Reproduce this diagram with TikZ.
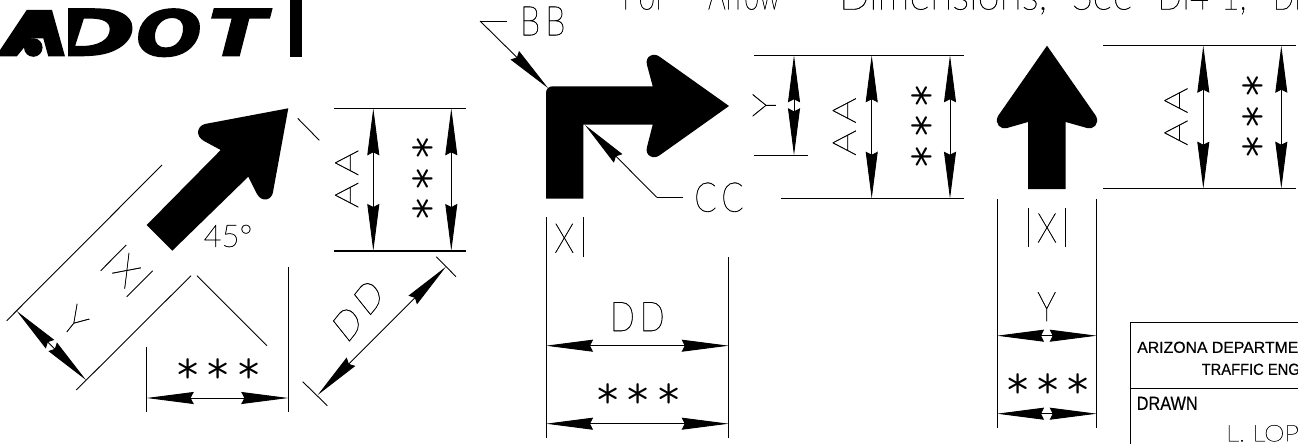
\documentclass[tikz,border=0pt]{standalone}
\usepackage{fontspec}
\usetikzlibrary{arrows.meta}
\setmainfont{Liberation Sans}
\newfontfamily\cadthin[FakeBold=1.0]{Lato Thin}
\newfontfamily\cadwide[LetterSpace=15,FakeBold=1.0]{Lato Thin}
\newfontfamily\cadplain[FakeBold=0.4]{Liberation Sans}
\newfontfamily\logofont[BoldItalicFeatures={FakeBold=2}]{DejaVu Sans}
\newfontfamily\starfont{Latin Modern Mono Light}
\newcommand{\fitw}[3]{\makebox[#1pt][l]{\resizebox{#2pt}{\height}{#3}}}
\newcommand{\logoletter}[3]{\makebox[#1pt][l]{\resizebox{#2pt}{47pt}{#3}}}
\tikzset{
  lineext/.style={line width=.9pt,black},
  lineheavy/.style={line width=1.1pt,black},
  dimline/.style={line width=.9pt,black,{Stealth[length=47pt,width=12pt,inset=3pt]}-{Stealth[length=47pt,width=12pt,inset=3pt]}},
  leader/.style={line width=.9pt,black,-{Stealth[length=47pt,width=12pt,inset=3pt]}},
  solidarrow/.style={fill=black,draw=none},
  lbl/.style={inner sep=0pt,outer sep=0pt,font=\cadthin\fontsize{41}{41}\selectfont,xscale=.8},
  lblwide/.style={inner sep=0pt,outer sep=0pt,font=\cadwide\fontsize{41}{41}\selectfont,xscale=.8},
  starmark/.style={inner sep=0pt,outer sep=0pt,font=\starfont\fontsize{48}{48}\selectfont,yshift=-2.3pt},
  starcol/.style={inner sep=0pt,outer sep=0pt,font=\starfont\fontsize{48}{48}\selectfont,rotate=90,xshift=0pt,yshift=-2.8pt},
  box/.style={line width=1.2pt,black},
  boxtxt/.style={inner sep=0pt,outer sep=0pt,anchor=west,font=\cadplain\fontsize{16}{16}\selectfont}
}
\begin{document}
\begin{tikzpicture}[x=1pt,y=-1pt]
\useasboundingbox (0,0) rectangle (1298,444);
\clip (0,0) rectangle (1298,444);
% ---------- logo
\node[inner sep=0pt,outer sep=0pt,anchor=south west] (logo) at (0,56.7)
  {\logofont\bfseries\itshape\logoletter{49}{47}{A}\logoletter{87}{87}{D}\logoletter{72}{66}{O}\logoletter{58}{58}{T}};
\fill[white] (-1,5) rectangle (67.5,58);
\fill (26.7,10) -- (52,10) -- (65,56.5) -- (48.3,56.5) -- (43.3,38.3) -- (31.7,38.3) -- (16.7,56.5) -- (0,56.5) -- (0,50) -- cycle;
\fill (33.3,47.5) circle (9.3);
\fill (290,0) rectangle (302,57);
% ---------- top note
\node[inner sep=0pt,outer sep=0pt,anchor=base west,font=\cadthin\fontsize{41}{41}\selectfont] (note) at (622,9.5)
  {\fitw{86}{44}{For}\fitw{131}{72}{Arrow}\fitw{233}{208}{Dimensions,}\fitw{85.5}{61}{See}\fitw{115.5}{89}{DI4-1,}\fitw{40}{28}{DI}};
% ---------- diagonal arrow
\fill[solidarrow] (288.3,108.3) -- (205,124) .. controls (197,126) and (195,136) .. (204,141) -- (220.7,150) -- (146.7,225) -- (172.3,250.7) -- (248.3,176.7) -- (257,194) .. controls (262,203) and (272,200) .. (273,192) -- cycle;
\coordinate (e1a) at (162,165); \coordinate (e1b) at (6.7,320.7);
\coordinate (e2a) at (191,275.7); \coordinate (e2b) at (76.3,390);
\coordinate (e3a) at (297.7,118.3); \coordinate (e3b) at (319.3,140.3);
\coordinate (e4a) at (197,275.7); \coordinate (e4b) at (267,345.7);
\coordinate (e5a) at (288.3,266.7); \coordinate (e5b) at (288.3,412.3);
\coordinate (e6a) at (146.7,346.7); \coordinate (e6b) at (146.7,412.3);
\draw[lineext] (e1a) -- (e1b);
\draw[lineext] (e2a) -- (e2b);
\draw[lineext] (e3a) -- (e3b);
\draw[lineext] (e4a) -- (e4b);
\draw[lineext] (e5a) -- (e5b);
\draw[lineext] (e6a) -- (e6b);
\coordinate (d1a) at (146.7,398); \coordinate (d1b) at (288.3,398);
\draw[dimline] (d1a) -- (d1b);
\node[starmark] (s1a) at (187.7,368.7) {*};
\node[starmark] (s1b) at (218.3,368.7) {*};
\node[starmark] (s1c) at (249,368.7) {*};
\node[inner sep=0pt,font=\cadthin\fontsize{31}{31}\selectfont] (deg) at (228,236) {45°};
\coordinate (x1a) at (126.3,245); \coordinate (x1b) at (100.7,270.7);
\coordinate (x1c) at (152.7,270.7); \coordinate (x1d) at (126.7,296.7);
\draw[lineext] (x1a) -- (x1b);
\draw[lineext] (x1c) -- (x1d);
\node[lbl,rotate=-45] (x1) at (126.7,270.7) {X};
\coordinate (y1a) at (16.7,311); \coordinate (y1b) at (86,380);
\draw[dimline] (y1a) -- (y1b);
\node[lbl,rotate=-45] (y1) at (75,321.7) {Y};
\coordinate (dd1a) at (446,266.7); \coordinate (dd1b) at (317.7,395);
\draw[dimline] (dd1a) -- (dd1b);
\coordinate (e7a) at (436.3,256.7); \coordinate (e7b) at (456,276.7);
\coordinate (e8a) at (302.7,381.7); \coordinate (e8b) at (327.3,405.7);
\draw[lineext] (e7a) -- (e7b);
\draw[lineext] (e8a) -- (e8b);
\node[lblwide,rotate=45] (dd1) at (358,310.3) {DD};
\coordinate (h1a) at (334.3,108.3); \coordinate (h1b) at (465.7,108.3);
\coordinate (h2a) at (334.3,251); \coordinate (h2b) at (465.7,251);
\draw[lineheavy] (h1a) -- (h1b);
\draw[lineheavy] (h2a) -- (h2b);
\coordinate (a1a) at (373.3,108.3); \coordinate (a1b) at (373.3,251);
\coordinate (a2a) at (451.3,108.3); \coordinate (a2b) at (451.3,251);
\draw[dimline] (a1a) -- (a1b);
\draw[dimline] (a2a) -- (a2b);
\node[lblwide,rotate=90] (aa1) at (346.7,179) {AA};
\node[starcol] (s2a) at (422.7,148) {*};
\node[starcol] (s2b) at (422.7,178.7) {*};
\node[starcol] (s2c) at (422.7,209) {*};
% ---------- bent arrow
\fill[solidarrow] (546,198.7) -- (546,93) .. controls (546,88.5) and (549,86.3) .. (553,86.3) -- (652.7,86.3) -- (647,65) .. controls (644.5,56) and (654,52) .. (660,57) -- (729,106) -- (660,155) .. controls (654,160) and (644.5,156) .. (647,147) -- (652.7,124.7) -- (583.3,124.7) -- (583.3,198.7) -- cycle;
\node[lblwide] (bb) at (542.7,21) {BB};
\coordinate (bb0) at (506.7,21); \coordinate (bb1) at (480,21); \coordinate (bb2) at (548.3,88.3);
\draw[lineext] (bb0) -- (bb1);
\draw[leader] (bb1) -- (bb2);
\node[lblwide] (cc) at (719,197.3) {CC};
\coordinate (cc0) at (683.3,197.3); \coordinate (cc1) at (656.7,197.3); \coordinate (cc2) at (585,125);
\draw[lineext] (cc0) -- (cc1);
\draw[leader] (cc1) -- (cc2);
\coordinate (v1a) at (546,217.3); \coordinate (v1b) at (546,437.7);
\coordinate (v2a) at (583.3,217.3); \coordinate (v2b) at (583.3,256.7);
\coordinate (v3a) at (728.7,257); \coordinate (v3b) at (728.7,437.7);
\draw[lineext] (v1a) -- (v1b);
\draw[lineext] (v2a) -- (v2b);
\draw[lineext] (v3a) -- (v3b);
\node[lbl] (x2) at (564.3,238.3) {X};
\coordinate (d2a) at (546,345.7); \coordinate (d2b) at (728.7,345.7);
\coordinate (d3a) at (546,423.7); \coordinate (d3b) at (728.7,423.7);
\draw[dimline] (d2a) -- (d2b);
\draw[dimline] (d3a) -- (d3b);
\node[lblwide] (dd2) at (637.3,316.7) {DD};
\node[starmark] (s3a) at (608,393.7) {*};
\node[starmark] (s3b) at (638.3,393.7) {*};
\node[starmark] (s3c) at (669,393.7) {*};
\coordinate (h3a) at (754.3,55.3); \coordinate (h3b) at (963.7,55.3);
\coordinate (h4a) at (781.3,198.7); \coordinate (h4b) at (963.7,198.7);
\coordinate (h5a) at (754.3,155.3); \coordinate (h5b) at (808,155.3);
\draw[lineheavy] (h3a) -- (h3b);
\draw[lineheavy] (h4a) -- (h4b);
\draw[lineheavy] (h5a) -- (h5b);
\coordinate (y2a) at (794,55.3); \coordinate (y2b) at (794,155.3);
\draw[dimline] (y2a) -- (y2b);
\node[lbl,rotate=90] (y2) at (764.3,105.3) {Y};
\coordinate (a3a) at (871.7,55.3); \coordinate (a3b) at (871.7,198.7);
\coordinate (a4a) at (950,55.3); \coordinate (a4b) at (950,198.7);
\draw[dimline] (a3a) -- (a3b);
\draw[dimline] (a4a) -- (a4b);
\node[lblwide,rotate=90] (aa2) at (844.3,126.7) {AA};
\node[starcol] (s4a) at (921,95.7) {*};
\node[starcol] (s4b) at (921,126.3) {*};
\node[starcol] (s4c) at (921,156.7) {*};
% ---------- up arrow
\fill[solidarrow] (1047,45.7) -- (1096,116) .. controls (1100,124) and (1093,130) .. (1087,128) -- (1065.7,122) -- (1065.7,189) -- (1028,189) -- (1028,122) -- (1007,128) .. controls (1001,130) and (994,124) .. (998,116) -- cycle;
\coordinate (h6a) at (1103.3,45.7); \coordinate (h6b) at (1295.7,45.7);
\coordinate (h7a) at (1103.3,188.7); \coordinate (h7b) at (1295.7,188.7);
\draw[lineheavy] (h6a) -- (h6b);
\draw[lineheavy] (h7a) -- (h7b);
\coordinate (a5a) at (1203.3,45.7); \coordinate (a5b) at (1203.3,188.7);
\coordinate (a6a) at (1281.3,45.7); \coordinate (a6b) at (1281.3,188.7);
\draw[dimline] (a5a) -- (a5b);
\draw[dimline] (a6a) -- (a6b);
\node[lblwide,rotate=90] (aa3) at (1176,116.7) {AA};
\node[starcol] (s5a) at (1252.7,85.7) {*};
\node[starcol] (s5b) at (1252.7,116.7) {*};
\node[starcol] (s5c) at (1252.7,147.3) {*};
\coordinate (v4a) at (997,199); \coordinate (v4b) at (997,427.7);
\coordinate (v5a) at (1096.7,199); \coordinate (v5b) at (1096.7,427.7);
\coordinate (v6a) at (1028,208); \coordinate (v6b) at (1028,247.3);
\coordinate (v7a) at (1065.7,208); \coordinate (v7b) at (1065.7,247.3);
\draw[lineext] (v4a) -- (v4b);
\draw[lineext] (v5a) -- (v5b);
\draw[lineext] (v6a) -- (v6b);
\draw[lineext] (v7a) -- (v7b);
\node[lbl] (x3) at (1047,228) {X};
\node[lbl] (y3) at (1046.7,306.7) {Y};
\coordinate (y3a) at (997,335.7); \coordinate (y3b) at (1096.7,335.7);
\coordinate (y4a) at (997,413.7); \coordinate (y4b) at (1096.7,413.7);
\draw[dimline] (y3a) -- (y3b);
\draw[dimline] (y4a) -- (y4b);
\node[starmark] (s6a) at (1017.7,384) {*};
\node[starmark] (s6b) at (1048,384) {*};
\node[starmark] (s6c) at (1078.3,384) {*};
% ---------- title block
\coordinate (b1) at (1130.3,444); \coordinate (b2) at (1130.3,322.7); \coordinate (b3) at (1298,322.7);
\coordinate (b4) at (1130.3,388.7); \coordinate (b5) at (1298,388.7);
\draw[box] (b1) -- (b2) -- (b3);
\draw[box] (b4) -- (b5);
\node[boxtxt] (t1) at (1137.3,347.3) {\resizebox{161pt}{\height}{ARIZONA DEPARTME}};
\node[boxtxt] (t2) at (1201.7,369.3) {\resizebox{98pt}{\height}{TRAFFIC ENG}};
\node[boxtxt,font=\cadplain\fontsize{19}{19}\selectfont] (t3) at (1136.7,403.3) {\resizebox{61pt}{\height}{DRAWN}};
\node[boxtxt,font=\cadthin\fontsize{23}{23}\selectfont] (t4) at (1226,433.3) {\resizebox{73pt}{\height}{L. LOP}};
\end{tikzpicture}
\end{document}
